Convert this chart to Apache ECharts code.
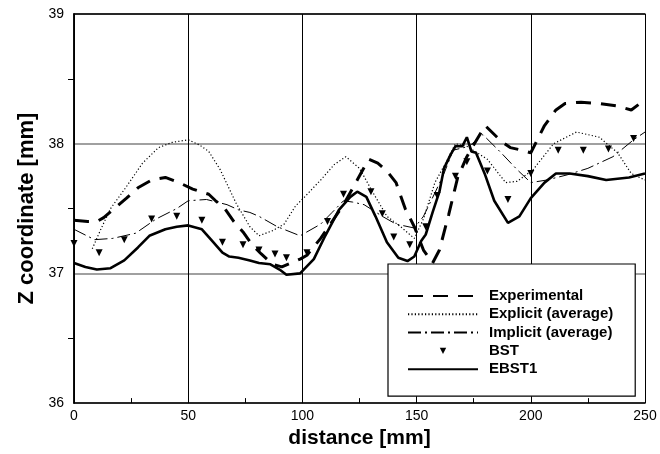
<!DOCTYPE html>
<html>
<head>
<meta charset="utf-8">
<script src="https://cdn.jsdelivr.net/npm/echarts@6/dist/echarts.min.js"></script>
<style>
html,body{margin:0;padding:0;background:#fff;}
#chart{width:660px;height:454px;}
</style>
</head>
<body>
<div id="chart"></div>
<script>
// ---- data ----
var xTicks = [0, 50, 100, 150, 200, 250];
var yTicks = [36, 37, 38, 39];

var expX = [0, 6, 10, 13, 17, 23, 28, 34, 40, 46, 52, 59, 62, 66, 70, 74, 78, 82, 87, 91, 95, 99, 102, 108, 113, 118, 124, 129, 133, 137, 141, 145, 149, 153, 157, 160, 164, 168, 172, 176, 180, 187, 191, 196, 200, 206, 211, 215, 222, 230, 238, 244, 250];
var expY = [37.41, 37.40, 37.40, 37.43, 37.49, 37.58, 37.66, 37.72, 37.74, 37.70, 37.65, 37.61, 37.56, 37.50, 37.40, 37.32, 37.22, 37.15, 37.07, 37.05, 37.08, 37.11, 37.14, 37.27, 37.40, 37.53, 37.72, 37.88, 37.85, 37.79, 37.70, 37.50, 37.36, 37.18, 37.08, 37.18, 37.45, 37.74, 37.90, 38.02, 38.14, 38.02, 37.97, 37.95, 37.93, 38.14, 38.26, 38.31, 38.32, 38.31, 38.29, 38.26, 38.34];

var explX = [8, 12, 16, 23, 30, 37, 43, 50, 55, 59, 64, 71, 77, 81, 87, 92, 97, 101, 108, 114, 119, 125, 131, 137, 143, 149, 153, 158, 163, 167, 172, 181, 189, 194, 201, 210, 220, 230, 238, 244, 250];
var explY = [37.19, 37.35, 37.50, 37.67, 37.85, 37.97, 38.01, 38.03, 37.99, 37.94, 37.80, 37.54, 37.36, 37.29, 37.33, 37.38, 37.52, 37.59, 37.72, 37.84, 37.90, 37.81, 37.62, 37.44, 37.36, 37.27, 37.42, 37.70, 37.86, 38.00, 37.98, 37.88, 37.70, 37.71, 37.80, 38.00, 38.09, 38.05, 37.93, 37.77, 37.72];

var implX = [0, 9, 17, 27, 36, 45, 50, 58, 67, 72, 77, 81, 89, 99, 108, 113, 118, 122, 127, 135, 141, 149, 153, 158, 162, 166, 173, 179, 187, 194, 200, 207, 216, 225, 236, 245, 250];
var implY = [37.34, 37.26, 37.27, 37.31, 37.42, 37.50, 37.56, 37.57, 37.53, 37.49, 37.47, 37.44, 37.36, 37.29, 37.38, 37.47, 37.56, 37.55, 37.53, 37.44, 37.38, 37.35, 37.44, 37.62, 37.77, 37.95, 37.98, 38.07, 37.93, 37.80, 37.70, 37.72, 37.76, 37.81, 37.90, 38.03, 38.09];

var bstX = [0, 11, 22, 34, 45, 56, 65, 74, 81, 88, 93, 102, 111, 118, 130, 135, 140, 147, 154, 159, 167, 172, 181, 190, 200, 212, 223, 234, 245];
var bstY = [37.23, 37.16, 37.26, 37.42, 37.44, 37.41, 37.24, 37.22, 37.18, 37.15, 37.12, 37.16, 37.40, 37.61, 37.63, 37.46, 37.28, 37.22, 37.36, 37.60, 37.75, 37.86, 37.79, 37.57, 37.77, 37.95, 37.95, 37.96, 38.04];

var ebstX = [0, 5, 10, 16, 22, 28, 33, 40, 45, 50, 56, 60, 65, 68, 72, 77, 81, 86, 90, 93, 99, 105, 110, 116, 121, 124, 128, 132, 137, 142, 146, 149, 152, 154, 157, 160, 162, 165, 167, 170, 172, 174, 176, 180, 184, 190, 195, 200, 206, 211, 217, 225, 233, 243, 250];
var ebstY = [37.08, 37.05, 37.03, 37.04, 37.10, 37.20, 37.29, 37.34, 37.36, 37.37, 37.34, 37.26, 37.16, 37.13, 37.12, 37.10, 37.08, 37.07, 37.03, 36.99, 37.00, 37.11, 37.29, 37.49, 37.59, 37.63, 37.59, 37.44, 37.24, 37.12, 37.095, 37.13, 37.25, 37.30, 37.47, 37.63, 37.81, 37.92, 37.98, 37.98, 38.05, 37.94, 37.93, 37.76, 37.56, 37.39, 37.44, 37.58, 37.70, 37.77, 37.77, 37.75, 37.72, 37.74, 37.77];

var seriesNames = ['Experimental', 'Explicit (average)', 'Implicit (average)', 'BST', 'EBST1'];

function zip(xs, ys) { return xs.map(function (x, i) { return [x, ys[i]]; }); }

var chart = echarts.init(document.getElementById('chart'), null, {renderer: 'canvas'});
var FONT = 'Liberation Sans, Arial, Helvetica, sans-serif';

var hiddenSymbol = {opacity: 0};

var option = {
  animation: false,
  backgroundColor: '#fff',
  grid: {left: 74, right: 15, top: 14, bottom: 50, containLabel: false},
  xAxis: [{
    type: 'value', min: xTicks[0], max: xTicks[xTicks.length - 1], interval: 50,
    name: 'distance [mm]', nameLocation: 'middle', nameGap: 23,
    nameTextStyle: {fontFamily: FONT, fontSize: 21, fontWeight: 'bold', color: '#000'},
    axisLine: {show: true, lineStyle: {color: '#000', width: 1.5}},
    axisTick: {show: true, inside: true, length: 5, lineStyle: {color: '#000'}},
    minorTick: {show: true, splitNumber: 2, length: 5, lineStyle: {color: '#000'}},
    axisLabel: {fontFamily: FONT, fontSize: 14, color: '#000', margin: 6},
    splitLine: {show: true, lineStyle: {color: '#000', width: 1}}
  }, {
    type: 'value', position: 'top', min: 0, max: 250,
    axisLine: {show: true, lineStyle: {color: '#000', width: 1.5}},
    axisTick: {show: false}, axisLabel: {show: false}, splitLine: {show: false}
  }],
  yAxis: [{
    type: 'value', min: yTicks[0], max: yTicks[yTicks.length - 1], interval: 1,
    name: 'Z coordinate [mm]', nameLocation: 'middle', nameGap: 36, nameRotate: 90,
    nameTextStyle: {fontFamily: FONT, fontSize: 22, fontWeight: 'bold', color: '#000'},
    axisLine: {show: true, lineStyle: {color: '#000', width: 1.5}},
    axisTick: {show: false},
    minorTick: {show: true, splitNumber: 2, length: 6, lineStyle: {color: '#000'}},
    axisLabel: {fontFamily: FONT, fontSize: 14, color: '#000', margin: 10},
    splitLine: {show: true, lineStyle: {color: '#808080', width: 1.5}}
  }, {
    type: 'value', position: 'right', min: 36, max: 39,
    axisLine: {show: true, lineStyle: {color: '#000', width: 1.5}},
    axisTick: {show: false}, axisLabel: {show: false}, splitLine: {show: false}
  }],
  legend: {
    orient: 'vertical', left: 388, top: 264,
    padding: [23, 22, 18, 19],
    backgroundColor: '#fff', borderColor: '#000', borderWidth: 1.2,
    itemWidth: 70, itemHeight: 8, itemGap: 0.3,
    textStyle: {fontFamily: FONT, fontSize: 15, fontWeight: 'bold', color: '#000', lineHeight: 18, padding: [0, 0, 0, 6]},
    data: [
      {name: seriesNames[0], itemStyle: hiddenSymbol},
      {name: seriesNames[1], itemStyle: hiddenSymbol},
      {name: seriesNames[2], itemStyle: hiddenSymbol},
      {name: seriesNames[3]},
      {name: seriesNames[4], itemStyle: hiddenSymbol}
    ]
  },
  series: [{
    name: seriesNames[0], type: 'line', symbol: 'none', data: zip(expX, expY),
    lineStyle: {color: '#000', width: 3, type: [15, 10]}, itemStyle: {color: '#000'}, z: 5
  }, {
    name: seriesNames[1], type: 'line', symbol: 'none', data: zip(explX, explY),
    lineStyle: {color: '#000', width: 1.2, type: [1.2, 2.2]}, itemStyle: {color: '#000'}, z: 4
  }, {
    name: seriesNames[2], type: 'line', symbol: 'none', data: zip(implX, implY),
    lineStyle: {color: '#000', width: 1, type: [13, 4, 2, 4]}, itemStyle: {color: '#000'}, z: 4
  }, {
    name: seriesNames[3], type: 'line', symbol: 'triangle', symbolSize: 7, symbolRotate: 180,
    showAllSymbol: true, data: zip(bstX, bstY),
    lineStyle: {width: 0, opacity: 0}, itemStyle: {color: '#000'}, z: 6
  }, {
    name: seriesNames[4], type: 'line', symbol: 'none', data: zip(ebstX, ebstY),
    lineStyle: {color: '#000', width: 2.6}, itemStyle: {color: '#000'}, z: 5
  }]
};
chart.setOption(option);
</script>
</body>
</html>
